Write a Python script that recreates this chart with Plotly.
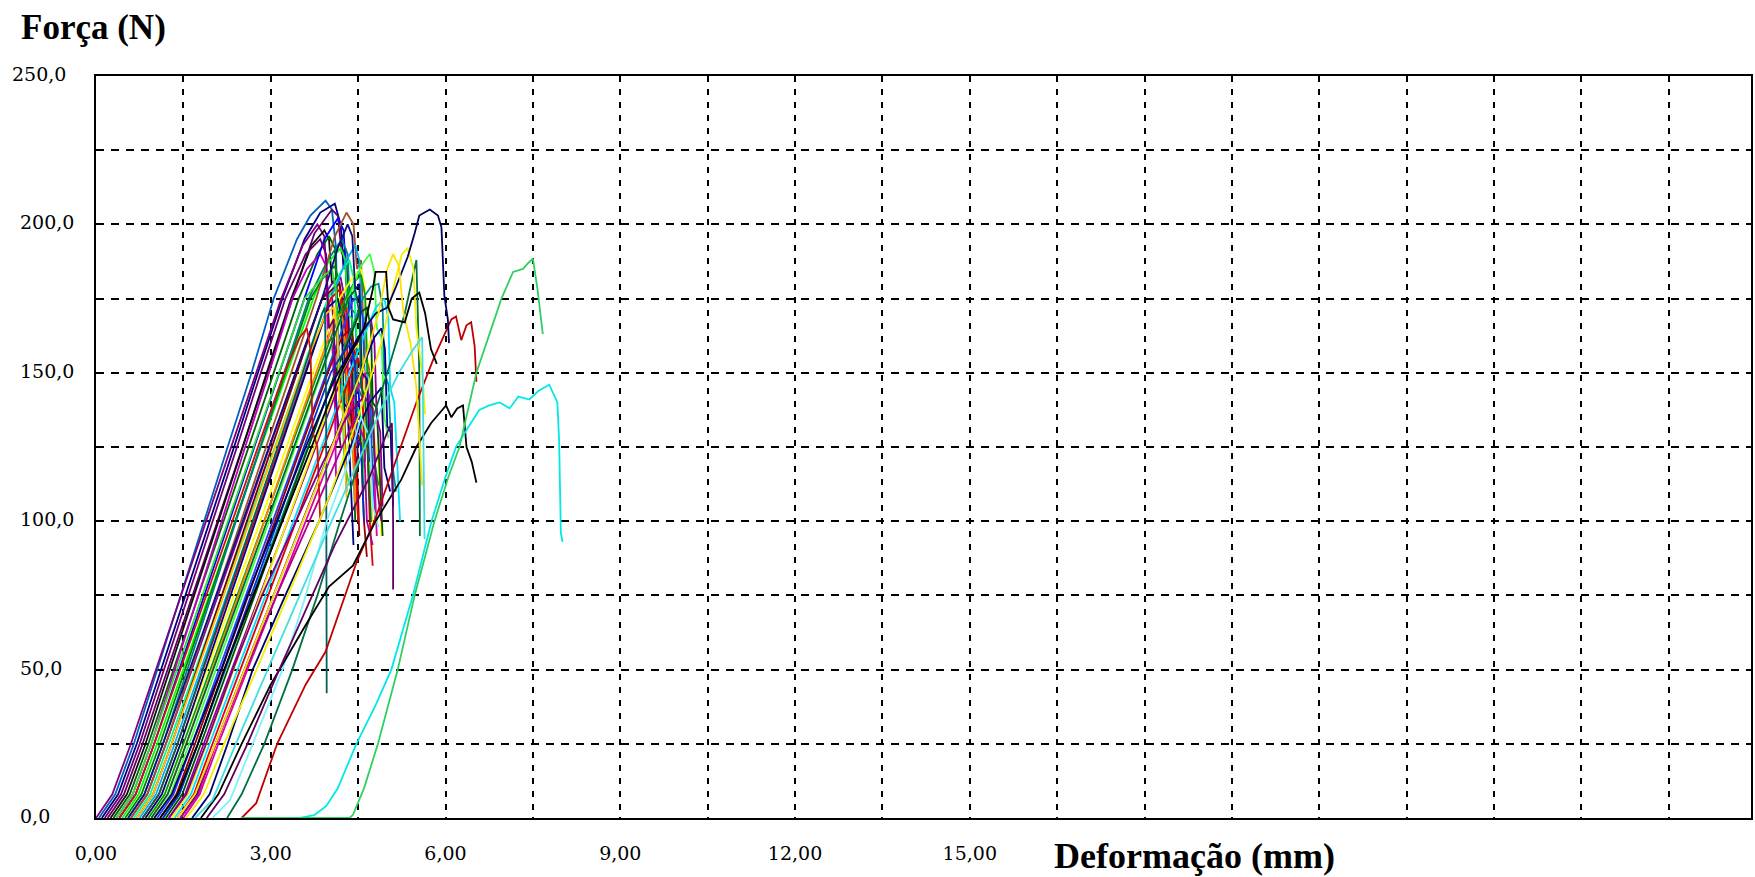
import plotly.graph_objects as go

# ---------------- force / deformation curves (x in mm, y in N) ----------------
c01_x = [0.05, 0.33, 0.65, 1.05, 1.46, 1.86, 2.26, 2.67, 3.05, 3.45, 3.68, 3.94, 4.05, 4.12, 4.14, 4.18, 4.22]
c01_y = [0, 8, 25, 50, 75, 100, 125, 150, 175, 195, 203, 208, 205, 192, 170, 150, 140]
c02_x = [0.10, 0.38, 0.70, 1.12, 1.53, 1.95, 2.37, 2.78, 3.20, 3.58, 3.85, 4.10, 4.20, 4.25, 4.30, 4.35, 4.40, 4.45]
c02_y = [0, 8, 25, 50, 75, 100, 125, 150, 175, 195, 204, 207, 200, 185, 188, 160, 150, 120]
c03_x = [0.00, 0.28, 0.60, 1.03, 1.46, 1.89, 2.32, 2.75, 3.18, 3.55, 3.80, 3.92, 3.98, 4.05, 4.10, 4.15]
c03_y = [0, 8, 25, 50, 75, 100, 125, 150, 175, 193, 200, 196, 175, 178, 150, 130]
c04_x = [0.20, 0.48, 0.80, 1.23, 1.66, 2.09, 2.52, 2.95, 3.38, 3.75, 4.05, 4.15, 4.22, 4.28, 4.32, 4.40, 4.45, 4.50]
c04_y = [0, 8, 25, 50, 75, 100, 125, 150, 175, 197, 205, 203, 190, 192, 165, 160, 140, 120]
c05_x = [0.25, 0.53, 0.85, 1.27, 1.68, 2.10, 2.52, 2.93, 3.35, 3.70, 3.92, 4.00, 4.05, 4.12, 4.15, 4.25, 4.30]
c05_y = [0, 8, 25, 50, 75, 100, 125, 150, 175, 193, 198, 195, 180, 182, 150, 145, 110]
c06_x = [0.30, 0.58, 0.90, 1.33, 1.76, 2.19, 2.62, 3.05, 3.48, 3.80, 4.00, 4.10, 4.15, 4.25, 4.30, 4.40, 4.45]
c06_y = [0, 8, 25, 50, 75, 100, 125, 150, 175, 190, 196, 192, 170, 172, 140, 135, 100]
c07_x = [0.35, 0.63, 0.95, 1.35, 1.76, 2.16, 2.56, 2.97, 3.37, 3.62, 3.85, 3.95, 3.98, 4.05, 4.10, 4.12]
c07_y = [0, 8, 25, 50, 75, 100, 125, 150, 175, 185, 190, 186, 160, 162, 140, 115]
c08_x = [0.40, 0.68, 1.00, 1.43, 1.86, 2.29, 2.72, 3.15, 3.58, 3.92, 4.15, 4.25, 4.30, 4.38, 4.42, 4.50, 4.55, 4.60]
c08_y = [0, 8, 25, 50, 75, 100, 125, 150, 175, 195, 202, 198, 180, 178, 150, 148, 125, 118]
c09_x = [0.45, 0.73, 1.05, 1.50, 1.94, 2.39, 2.83, 3.28, 3.73, 3.98, 4.20, 4.28, 4.32, 4.40, 4.45, 4.55, 4.60]
c09_y = [0, 8, 25, 50, 75, 100, 125, 150, 175, 187, 192, 188, 170, 168, 140, 135, 110]
c10_x = [0.50, 0.78, 1.10, 1.53, 1.96, 2.39, 2.82, 3.25, 3.68, 3.90, 4.10, 4.18, 4.22, 4.30, 4.35, 4.45, 4.50]
c10_y = [0, 8, 25, 50, 75, 100, 125, 150, 175, 182, 186, 180, 160, 158, 130, 126, 100]
c11_x = [0.55, 0.83, 1.15, 1.57, 1.98, 2.40, 2.82, 3.23, 3.65, 3.98, 4.22, 4.32, 4.36, 4.45, 4.50, 4.60, 4.62]
c11_y = [0, 8, 25, 50, 75, 100, 125, 150, 175, 188, 195, 190, 172, 170, 145, 140, 120]
c12_x = [0.60, 0.88, 1.20, 1.65, 2.09, 2.54, 2.98, 3.43, 3.88, 4.05, 4.20, 4.26, 4.30, 4.38, 4.42, 4.50]
c12_y = [0, 8, 25, 50, 75, 100, 125, 150, 175, 180, 182, 176, 150, 152, 125, 118]
c13_x = [0.60, 0.88, 1.20, 1.63, 2.06, 2.49, 2.92, 3.35, 3.78, 4.10, 4.30, 4.42, 4.48, 4.55, 4.60, 4.70, 4.75]
c13_y = [0, 8, 25, 50, 75, 100, 125, 150, 175, 196, 204, 200, 185, 188, 160, 150, 130]
c14_x = [0.65, 0.93, 1.25, 1.71, 2.16, 2.62, 3.07, 3.53, 3.98, 4.20, 4.35, 4.42, 4.48, 4.55, 4.58, 4.68, 4.72]
c14_y = [0, 8, 25, 50, 75, 100, 125, 150, 175, 184, 188, 182, 160, 162, 140, 130, 105]
c15_x = [0.70, 0.98, 1.30, 1.73, 2.16, 2.59, 3.02, 3.45, 3.88, 4.05, 4.18, 4.25, 4.28, 4.35, 4.40, 4.48, 4.52]
c15_y = [0, 8, 25, 50, 75, 100, 125, 150, 175, 178, 180, 172, 150, 148, 125, 120, 95]
c16_x = [0.75, 1.03, 1.35, 1.80, 2.24, 2.69, 3.13, 3.58, 4.03, 4.30, 4.45, 4.52, 4.56, 4.62, 4.68, 4.75, 4.80]
c16_y = [0, 8, 25, 50, 75, 100, 125, 150, 175, 188, 193, 188, 170, 168, 140, 135, 112]
c17_x = [0.80, 1.08, 1.40, 1.84, 2.28, 2.72, 3.15, 3.59, 4.03, 4.18, 4.25, 4.30, 4.33, 4.40, 4.45, 4.50]
c17_y = [0, 8, 25, 50, 75, 100, 125, 150, 175, 178, 170, 172, 145, 140, 118, 100]
c18_x = [0.85, 1.13, 1.45, 1.91, 2.36, 2.82, 3.27, 3.73, 4.18, 4.40, 4.55, 4.62, 4.65, 4.72, 4.78, 4.85, 4.90]
c18_y = [0, 8, 25, 50, 75, 100, 125, 150, 175, 182, 185, 178, 155, 152, 128, 120, 95]
c19_x = [0.85, 1.13, 1.45, 1.88, 2.31, 2.74, 3.17, 3.60, 3.98, 4.15, 4.22, 4.25, 4.32, 4.38, 4.42]
c19_y = [0, 8, 25, 50, 75, 100, 125, 150, 172, 175, 168, 140, 138, 110, 92]
c20_x = [0.90, 1.18, 1.50, 1.96, 2.43, 2.89, 3.35, 3.81, 4.28, 4.45, 4.55, 4.62, 4.66, 4.72, 4.78, 4.85]
c20_y = [0, 8, 25, 50, 75, 100, 125, 150, 175, 181, 183, 176, 150, 148, 120, 112]
c21_x = [0.95, 1.23, 1.55, 2.00, 2.44, 2.89, 3.33, 3.78, 4.10, 4.22, 4.28, 4.32, 4.40, 4.45]
c21_y = [0, 8, 25, 50, 75, 100, 125, 150, 168, 170, 160, 135, 130, 105]
c22_x = [1.00, 1.28, 1.60, 2.06, 2.51, 2.97, 3.42, 3.88, 4.33, 4.55, 4.70, 4.78, 4.82, 4.90, 4.95, 5.02]
c22_y = [0, 8, 25, 50, 75, 100, 125, 150, 175, 186, 190, 184, 165, 162, 135, 128]
c23_x = [1.05, 1.33, 1.65, 2.11, 2.58, 3.04, 3.50, 3.96, 4.40, 4.52, 4.58, 4.62, 4.70, 4.75, 4.80]
c23_y = [0, 8, 25, 50, 75, 100, 125, 150, 174, 176, 168, 145, 142, 115, 100]
c24_x = [1.10, 1.38, 1.70, 2.16, 2.61, 3.07, 3.52, 3.98, 4.22, 4.38, 4.45, 4.48, 4.55, 4.60, 4.65]
c24_y = [0, 8, 25, 50, 75, 100, 125, 150, 162, 165, 156, 130, 126, 100, 88]
c25_x = [1.15, 1.43, 1.75, 2.22, 2.69, 3.17, 3.64, 4.11, 4.58, 4.72, 4.85, 4.92, 4.95, 5.02, 5.08, 5.15]
c25_y = [0, 8, 25, 50, 75, 100, 125, 150, 175, 179, 180, 172, 150, 146, 120, 110]
c26_x = [1.20, 1.48, 1.80, 2.26, 2.73, 3.19, 3.65, 4.11, 4.52, 4.65, 4.72, 4.75, 4.82, 4.88, 4.92]
c26_y = [0, 8, 25, 50, 75, 100, 125, 150, 170, 172, 165, 140, 138, 110, 95]
c27_x = [1.25, 1.53, 1.85, 2.33, 2.81, 3.29, 3.77, 4.25, 4.60, 4.72, 4.78, 4.82, 4.88, 4.92]
c27_y = [0, 8, 25, 50, 75, 100, 125, 150, 165, 168, 160, 135, 130, 105]
c28_x = [1.30, 1.58, 1.90, 2.36, 2.83, 3.29, 3.75, 4.21, 4.42, 4.55, 4.60, 4.63, 4.70, 4.75]
c28_y = [0, 8, 25, 50, 75, 100, 125, 150, 158, 160, 150, 125, 122, 98]
c29_x = [1.35, 1.63, 1.95, 2.43, 2.91, 3.39, 3.87, 4.35, 4.80, 4.95, 5.02, 5.05, 5.12, 5.18, 5.22]
c29_y = [0, 8, 25, 50, 75, 100, 125, 150, 172, 175, 168, 145, 140, 115, 100]
c30_x = [1.40, 1.68, 2.00, 2.48, 2.96, 3.44, 3.92, 4.35, 4.50, 4.56, 4.60, 4.66, 4.70, 4.75]
c30_y = [0, 8, 25, 50, 75, 100, 125, 148, 155, 150, 128, 125, 100, 85]
c31_x = [1.45, 1.73, 2.05, 2.55, 3.05, 3.55, 4.05, 4.55, 4.78, 4.90, 4.96, 5.00, 5.06, 5.10]
c31_y = [0, 8, 25, 50, 75, 100, 125, 150, 162, 165, 158, 132, 130, 105]
c32_x = [1.50, 1.78, 2.10, 2.60, 3.10, 3.60, 4.10, 4.50, 4.62, 4.68, 4.72, 4.78, 4.82]
c32_y = [0, 8, 25, 50, 75, 100, 125, 145, 150, 142, 118, 115, 95]
c33_x = [0.15, 0.43, 0.75, 1.17, 1.58, 2.00, 2.42, 2.83, 3.25, 3.60, 3.85, 3.95, 4.00, 4.08, 4.12, 4.20]
c33_y = [0, 8, 25, 50, 75, 100, 125, 150, 175, 190, 195, 190, 165, 168, 140, 125]
c34_x = [0.35, 0.63, 0.95, 1.39, 1.83, 2.27, 2.70, 3.14, 3.58, 3.88, 4.05, 4.12, 4.16, 4.22, 4.26, 4.35]
c34_y = [0, 8, 25, 50, 75, 100, 125, 150, 175, 182, 185, 178, 155, 150, 120, 112]
c35_x = [0.55, 0.83, 1.15, 1.61, 2.06, 2.52, 2.97, 3.43, 3.88, 4.15, 4.32, 4.40, 4.45, 4.52, 4.56, 4.65, 4.70]
c35_y = [0, 8, 25, 50, 75, 100, 125, 150, 175, 192, 200, 196, 178, 180, 150, 148, 120]
c36_x = [0.70, 0.98, 1.30, 1.75, 2.19, 2.64, 3.08, 3.53, 3.95, 4.08, 4.14, 4.18, 4.25, 4.30]
c36_y = [0, 8, 25, 50, 75, 100, 125, 150, 170, 172, 165, 140, 136, 108]
c37_x = [0.95, 1.23, 1.55, 2.01, 2.48, 2.94, 3.40, 3.86, 4.33, 4.45, 4.52, 4.55, 4.62, 4.68, 4.72]
c37_y = [0, 8, 25, 50, 75, 100, 125, 150, 175, 178, 170, 145, 142, 115, 100]
c38_x = [1.15, 1.43, 1.75, 2.21, 2.66, 3.12, 3.57, 4.03, 4.25, 4.38, 4.45, 4.48, 4.55, 4.60]
c38_y = [0, 8, 25, 50, 75, 100, 125, 150, 157, 160, 152, 128, 125, 100]
c39_x = [0.80, 1.08, 1.40, 1.83, 2.26, 2.69, 3.12, 3.55, 3.88, 3.93, 3.95, 3.95, 3.96]
c39_y = [0, 8, 25, 50, 75, 100, 125, 150, 170, 172, 140, 90, 42]
c40_x = [0.40, 0.68, 1.00, 1.45, 1.89, 2.34, 2.78, 3.23, 3.50, 3.62, 3.68, 3.72, 3.80, 3.85]
c40_y = [0, 8, 25, 50, 75, 100, 125, 150, 162, 165, 158, 130, 125, 100]

# later-starting specimens
l01_x = [1.25, 1.55, 1.89, 2.35, 2.85, 3.43, 3.90, 4.30, 4.60, 4.75, 4.80, 4.90]
l01_y = [0, 8, 25, 50, 75, 100, 120, 135, 142, 138, 115, 100]
l02_x = [1.45, 1.75, 2.06, 2.57, 3.10, 3.66, 4.10, 4.45, 4.60, 4.65, 4.75]
l02_y = [0, 8, 25, 50, 75, 100, 120, 135, 128, 100, 92]
l03_x = [1.65, 1.95, 2.26, 2.69, 3.25, 3.83, 4.30, 4.70, 4.90, 4.95, 5.05]
l03_y = [0, 8, 25, 50, 75, 100, 122, 140, 145, 118, 110]
l04_x = [2.00, 2.30, 2.69, 3.20, 3.60, 3.96, 4.30, 4.55, 4.70, 4.75, 4.85]
l04_y = [0, 6, 25, 50, 75, 100, 118, 135, 128, 105, 98]
l05_x = [2.25, 2.50, 2.89, 3.37, 3.80, 4.19, 4.60, 5.00, 5.30, 5.50, 5.55, 5.55, 5.56]
l05_y = [0, 8, 25, 50, 75, 100, 125, 150, 170, 188, 150, 110, 95]
l06_x = [2.50, 2.75, 3.11, 3.60, 3.94, 4.47, 4.78, 5.10, 5.50, 5.80, 6.10, 6.18, 6.27, 6.36, 6.44, 6.50, 6.53]
l06_y = [0, 5, 25, 45, 56, 86, 100, 118, 140, 155, 168, 169, 161, 166, 167, 159, 147]
l07_x = [1.80, 2.10, 2.50, 3.00, 3.60, 4.00, 4.41, 4.80, 5.24, 5.50, 5.75, 6.01, 6.10, 6.20, 6.30, 6.36, 6.45, 6.53]
l07_y = [0, 8, 25, 45, 65, 78, 85, 100, 114, 125, 133, 139, 135, 138, 139, 125, 120, 113]
l08_x = [1.90, 2.20, 2.60, 3.10, 3.60, 4.10, 4.70, 5.00, 5.08, 5.10, 5.10]
l08_y = [0, 8, 25, 48, 70, 92, 115, 130, 133, 100, 77]
l09_x = [1.55, 1.85, 2.20, 2.80, 3.40, 4.00, 4.50, 4.90, 5.10, 5.25, 5.35, 5.45, 5.50, 5.60, 5.65]
l09_y = [0, 8, 25, 52, 80, 108, 135, 160, 178, 190, 192, 185, 165, 150, 136]
l10_x = [1.00, 1.30, 1.65, 2.15, 2.60, 3.10, 3.60, 4.10, 4.50, 4.80, 5.00, 5.15, 5.35, 5.47, 5.55, 5.73, 5.87, 5.93, 5.96, 5.98, 6.04, 6.06]
l10_y = [0, 8, 25, 50, 75, 100, 125, 148, 162, 170, 172, 179, 189, 197, 203, 205, 203, 199, 188, 176, 168, 160]
l11_x = [1.40, 1.70, 2.05, 2.55, 3.05, 3.55, 4.05, 4.55, 4.85, 5.00, 5.10, 5.20, 5.28, 5.40, 5.50, 5.55, 5.60]
l11_y = [0, 8, 25, 50, 75, 100, 125, 150, 170, 185, 190, 186, 170, 160, 145, 130, 112]
l12_x = [1.70, 2.00, 2.40, 2.95, 3.50, 4.00, 4.50, 4.90, 5.20, 5.45, 5.60, 5.62, 5.63, 5.64]
l12_y = [0, 6, 25, 50, 75, 98, 120, 138, 150, 158, 162, 130, 100, 94]
l13_x = [1.10, 1.40, 1.75, 2.20, 2.70, 3.20, 3.70, 4.20, 4.60, 4.75, 4.80, 4.98, 5.02, 5.10, 5.30, 5.42, 5.55, 5.65, 5.75, 5.85]
l13_y = [0, 8, 25, 50, 75, 100, 125, 150, 165, 178, 184, 184, 172, 168, 167, 175, 177, 170, 158, 153]
l14_x = [2.60, 3.50, 3.75, 3.95, 4.15, 4.47, 4.80, 5.07, 5.44, 5.76, 6.00, 6.18, 6.40, 6.58, 6.75, 6.93, 7.10, 7.25, 7.44, 7.60, 7.78, 7.92, 7.95, 7.98, 8.01]
l14_y = [0, 0, 1, 4, 10, 25, 38, 50, 75, 100, 115, 125, 132, 137.5, 139, 140, 138, 142, 141, 144, 146, 140, 127, 96, 93]
l15_x = [2.50, 4.35, 4.41, 4.60, 4.84, 5.18, 5.47, 5.81, 6.05, 6.24, 6.53, 6.75, 6.96, 7.16, 7.33, 7.42, 7.50, 7.58, 7.67]
l15_y = [0, 0, 1, 10, 25, 50, 75, 100, 115, 125, 150, 163, 175, 184, 185, 187, 188.5, 178, 163]

curve_colors = [
    "#0060C0", "#000080", "#800080", "#660066", "#101010", "#006400", "#C000C0", "#0000FF",
    "#00FF00", "#008000", "#008080", "#8000A0", "#A0522D", "#00FF80", "#800000", "#00B0F0",
    "#FF0000", "#FFFF00", "#000080", "#00A000", "#FF8000", "#40FF40", "#2040FF", "#990000",
    "#009090", "#005000", "#900090", "#F0F000", "#00E0FF", "#E00000", "#000090", "#E000A0",
    "#700070", "#30E030", "#101080", "#FFC000", "#006633", "#0030D0", "#006060", "#D01010",
    "#800080", "#B0008F", "#000070", "#80F0FF", "#007040", "#C00000", "#000000", "#600060",
    "#F0F000", "#000060", "#FFE000", "#40E0E0", "#000000", "#00E8E8", "#30D060",
]

# ---------------- axes: grid positions and labels ----------------
x_grid = [0, 1.5, 3, 4.5, 6, 7.5, 9, 10.5, 12, 13.5, 15, 16.5, 18, 19.5, 21, 22.5, 24, 25.5, 27]
x_labels = ["0,00", "", "3,00", "", "6,00", "", "9,00", "", "12,00", "", "15,00",
            "", "", "", "", "", "", "", ""]
y_grid = [0, 25, 50, 75, 100, 125, 150, 175, 200, 225, 250]
y_label_vals = [0, 50, 100, 150, 200, 250]
y_labels = ["0,0", "50,0", "100,0", "150,0", "200,0", "250,0"]
x_title = "Deformação (mm)"
y_title = "Força (N)"

series = [
    (c01_x, c01_y), (c02_x, c02_y), (c03_x, c03_y), (c04_x, c04_y), (c05_x, c05_y),
    (c06_x, c06_y), (c07_x, c07_y), (c08_x, c08_y), (c09_x, c09_y), (c10_x, c10_y),
    (c11_x, c11_y), (c12_x, c12_y), (c13_x, c13_y), (c14_x, c14_y), (c15_x, c15_y),
    (c16_x, c16_y), (c17_x, c17_y), (c18_x, c18_y), (c19_x, c19_y), (c20_x, c20_y),
    (c21_x, c21_y), (c22_x, c22_y), (c23_x, c23_y), (c24_x, c24_y), (c25_x, c25_y),
    (c26_x, c26_y), (c27_x, c27_y), (c28_x, c28_y), (c29_x, c29_y), (c30_x, c30_y),
    (c31_x, c31_y), (c32_x, c32_y), (c33_x, c33_y), (c34_x, c34_y), (c35_x, c35_y),
    (c36_x, c36_y), (c37_x, c37_y), (c38_x, c38_y), (c39_x, c39_y), (c40_x, c40_y),
    (l01_x, l01_y), (l02_x, l02_y), (l03_x, l03_y), (l04_x, l04_y), (l05_x, l05_y),
    (l06_x, l06_y), (l07_x, l07_y), (l08_x, l08_y), (l09_x, l09_y), (l10_x, l10_y),
    (l11_x, l11_y), (l12_x, l12_y), (l13_x, l13_y), (l14_x, l14_y), (l15_x, l15_y),
]

fig = go.Figure()
for i, ((xs, ys), col) in enumerate(zip(series, curve_colors)):
    if len(xs) != len(ys):
        raise ValueError(f"curve {i + 1}: {len(xs)} x values vs {len(ys)} y values")
    fig.add_trace(go.Scatter(
        x=xs, y=ys, mode="lines",
        line=dict(color=col, width=1.8),
        showlegend=False, hoverinfo="skip",
    ))

W, H = 1755, 877
ML, MR, MT, MB = 96, 2, 76, 59
plot_w = W - ML - MR
plot_h = H - MT - MB


def px_to_paper_x(px):
    return (px - ML) / plot_w


def px_to_paper_y(py):
    return (H - MB - py) / plot_h


tick_font = dict(family="DejaVu Serif", size=19, color="black")
title_font = dict(family="Liberation Serif", size=36, color="black", weight="bold")

fig.update_layout(
    width=W, height=H,
    margin=dict(l=ML, r=MR, t=MT, b=MB),
    paper_bgcolor="white", plot_bgcolor="white",
    showlegend=False,
    xaxis=dict(
        range=[0, 28.41], tickmode="array", tickvals=x_grid, ticktext=x_labels,
        showgrid=True, gridcolor="black", gridwidth=2, griddash="6px,7px",
        zeroline=False, showline=True, linecolor="black", linewidth=2, mirror=True,
        ticks="", tickfont=tick_font, ticklabelstandoff=17,
    ),
    yaxis=dict(
        range=[0, 250], tickmode="array", tickvals=y_grid,
        showticklabels=False,
        showgrid=True, gridcolor="black", gridwidth=2, griddash="8px,7px",
        zeroline=False, showline=True, linecolor="black", linewidth=2, mirror=True,
        ticks="",
    ),
)

annotations = []
for val, txt in zip(y_label_vals, y_labels):
    annotations.append(dict(
        text=txt, xref="paper", x=px_to_paper_x(18), xanchor="left",
        xshift=-8 if val == 250 else 0,
        yref="y", y=val, yanchor="middle", yshift=2,
        showarrow=False, font=tick_font,
    ))
annotations.append(dict(
    text=y_title, xref="paper", x=px_to_paper_x(19), xanchor="left",
    yref="paper", y=px_to_paper_y(28), yanchor="middle",
    showarrow=False, font=dict(title_font, size=35),
))
annotations.append(dict(
    text=x_title, xref="paper", x=px_to_paper_x(1053), xanchor="left",
    yref="paper", y=px_to_paper_y(856), yanchor="middle",
    showarrow=False, font=title_font,
))
fig.update_layout(annotations=annotations)

fig.write_html("out.html")
